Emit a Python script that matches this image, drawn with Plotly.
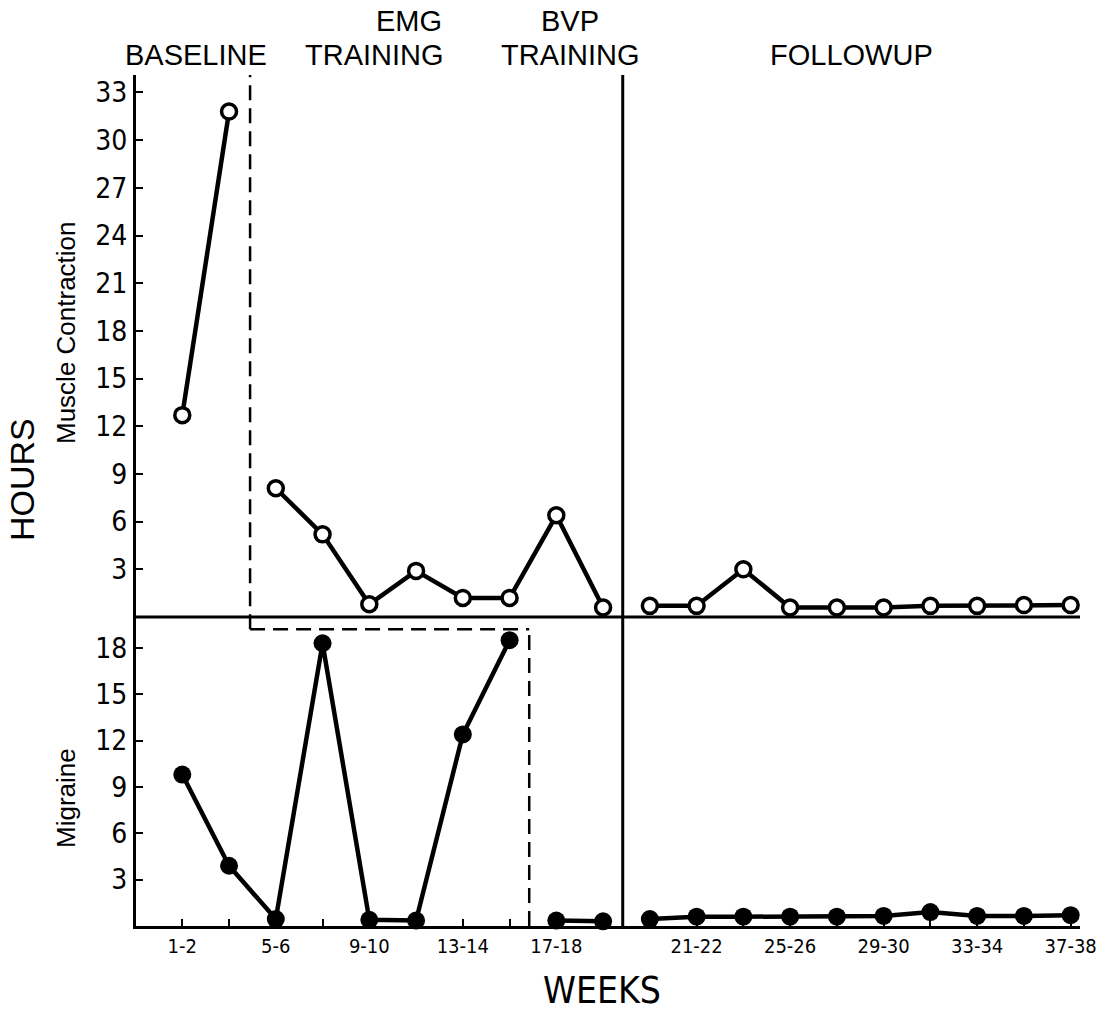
import plotly.graph_objects as go

# ---- data ----
week_index = list(range(20))
tick_positions = [0, 2, 4, 6, 8, 11, 13, 15, 17, 19]
tick_labels = ["1-2", "5-6", "9-10", "13-14", "17-18", "21-22", "25-26", "29-30", "33-34", "37-38"]
muscle = [12.7, 31.8, 8.1, 5.2, 0.8, 2.9, 1.2, 1.2, 6.4, 0.6,
          0.7, 0.7, 3.0, 0.6, 0.6, 0.6, 0.7, 0.7, 0.75, 0.75]
migraine = [9.8, 3.9, 0.45, 18.3, 0.4, 0.35, 12.4, 18.5, 0.35, 0.3,
            0.45, 0.6, 0.6, 0.6, 0.6, 0.65, 0.9, 0.65, 0.65, 0.7]
muscle_segments = [(0, 2), (2, 10), (10, 20)]
migraine_segments = [(0, 8), (8, 10), (10, 20)]
y_ticks_top = [3, 6, 9, 12, 15, 18, 21, 24, 27, 30, 33]
y_ticks_bottom = [3, 6, 9, 12, 15, 18]

TOP_MAX = 34.1
BOT_MAX = 20.0
split = 309 / 851

PL, PT, PW, PH = 136, 75, 944, 851  # plot area in screen pixels


def px(xs):
    return (xs - PL) / PW


def py(ys):
    return (PT + PH - ys) / PH


fig = go.Figure()
for a, b in muscle_segments:
    fig.add_trace(go.Scatter(x=week_index[a:b], y=muscle[a:b], mode="lines+markers",
                             line=dict(color="black", width=4.5),
                             marker=dict(symbol="circle", size=15, color="white",
                                         line=dict(color="black", width=3.5)),
                             xaxis="x", yaxis="y", showlegend=False, cliponaxis=False))
for a, b in migraine_segments:
    fig.add_trace(go.Scatter(x=week_index[a:b], y=migraine[a:b], mode="lines+markers",
                             line=dict(color="black", width=4.5),
                             marker=dict(symbol="circle", size=18, color="black"),
                             xaxis="x", yaxis="y2", showlegend=False, cliponaxis=False))

tickfont_y = dict(family="DejaVu Sans Condensed, Liberation Sans Narrow, Liberation Sans", size=28, color="black")
fig.update_layout(
    width=1117, height=1012,
    margin=dict(l=PL, r=1117 - PL - PW, t=PT, b=1012 - PT - PH, autoexpand=False),
    paper_bgcolor="white", plot_bgcolor="white",
    xaxis=dict(range=[-0.99, 19.2], showgrid=False, zeroline=False, automargin=False,
               showline=True, linecolor="black", linewidth=3,
               tickvals=tick_positions, ticktext=tick_labels,
               ticks="inside", ticklen=7, tickwidth=2, tickcolor="black",
               minor=dict(tickvals=week_index, ticks="inside", ticklen=7, tickwidth=2, tickcolor="black"),
               tickfont=dict(family="DejaVu Sans Condensed, Liberation Sans Narrow, Liberation Sans", size=20, color="black"),
               anchor="y2"),
    yaxis=dict(domain=[split, 1], range=[0, TOP_MAX], showgrid=False, zeroline=False, automargin=False,
               showline=True, linecolor="black", linewidth=3,
               tickvals=y_ticks_top, ticks="inside", ticklen=7, tickwidth=2, tickcolor="black",
               tickfont=tickfont_y),
    yaxis2=dict(domain=[0, split], range=[0, BOT_MAX], showgrid=False, zeroline=False, automargin=False,
                showline=True, linecolor="black", linewidth=3,
                tickvals=y_ticks_bottom, ticks="inside", ticklen=7, tickwidth=2, tickcolor="black",
                tickfont=tickfont_y),
)

# phase lines
dash_x1 = 1.45
dash_x2 = 7.42
solid_x = 9.42
dash_y = 19.2
dash_paper = split * dash_y / BOT_MAX
dashstyle = "15px,8px"
shapes = [
    dict(type="line", xref="x", yref="paper", x0=-0.99, x1=19.2, y0=split, y1=split,
         line=dict(color="black", width=3)),
    dict(type="line", xref="x", yref="paper", x0=dash_x1, x1=dash_x1, y0=dash_paper, y1=1,
         line=dict(color="black", width=2.5, dash=dashstyle)),
    dict(type="line", xref="x", yref="paper", x0=dash_x1, x1=dash_x2, y0=dash_paper, y1=dash_paper,
         line=dict(color="black", width=2.5, dash=dashstyle)),
    dict(type="line", xref="x", yref="paper", x0=dash_x2, x1=dash_x2, y0=0, y1=dash_paper,
         line=dict(color="black", width=2.5, dash=dashstyle)),
    dict(type="line", xref="x", yref="paper", x0=solid_x, x1=solid_x, y0=0, y1=1,
         line=dict(color="black", width=3)),
]
fig.update_layout(shapes=shapes)

hfont = dict(family="Liberation Sans", size=29, color="black")
ann = []
for txt, xs in [("BASELINE", 196), ("TRAINING", 374), ("TRAINING", 570), ("FOLLOWUP", 851)]:
    ann.append(dict(text=txt, x=px(xs), y=py(55), xref="paper", yref="paper", xanchor="center",
                    yanchor="middle", showarrow=False, font=hfont))
for txt, xs in [("EMG", 409), ("BVP", 570)]:
    ann.append(dict(text=txt, x=px(xs), y=py(21), xref="paper", yref="paper", xanchor="center",
                    yanchor="middle", showarrow=False, font=hfont))
ann.append(dict(text="HOURS", x=px(22), y=py(480), xref="paper", yref="paper", xanchor="center", yanchor="middle",
                textangle=-90, showarrow=False, font=dict(family="Liberation Sans", size=34, color="black")))
ann.append(dict(text="Muscle Contraction", x=px(66), y=py(333), xref="paper", yref="paper", xanchor="center", yanchor="middle",
                textangle=-90, showarrow=False, font=dict(family="Liberation Sans", size=26, color="black")))
ann.append(dict(text="Migraine", x=px(66), y=py(798), xref="paper", yref="paper", xanchor="center", yanchor="middle",
                textangle=-90, showarrow=False, font=dict(family="Liberation Sans", size=26, color="black")))
ann.append(dict(text="WEEKS", x=px(602), y=py(990), xref="paper", yref="paper", xanchor="center", yanchor="middle",
                showarrow=False, font=dict(family="DejaVu Sans Condensed, Liberation Sans Narrow, Liberation Sans", size=37, color="black")))
fig.update_layout(annotations=ann)

fig.write_html("out.html", config={"displayModeBar": False},
               post_script="document.body.style.margin='0';")
